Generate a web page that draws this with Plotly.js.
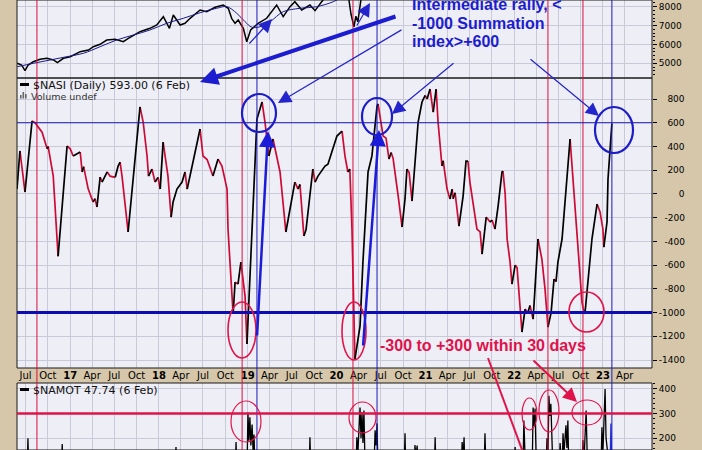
<!DOCTYPE html>
<html><head><meta charset="utf-8">
<script src="https://cdn.plot.ly/plotly-3.0.1.min.js"></script>
<style>html,body{margin:0;padding:0;background:#d6c7aa;}#chart{width:702px;height:450px;}</style>
</head><body><div id="chart"></div>
<script>
// ---------- DATA (dates as decimal years) ----------
const priceT = [2016.407,2016.456,2016.493,2016.530,2016.587,2016.662,2016.738,2016.812,2016.857,2016.925,2017.000,2017.113,2017.206,2017.262,2017.338,2017.413,2017.507,2017.600,2017.657,2017.788,2017.901,2017.976,2018.051,2018.089,2018.118,2018.163,2018.239,2018.295,2018.351,2018.464,2018.539,2018.633,2018.726,2018.783,2018.821,2018.858,2018.895,2018.952,2018.990,2019.035,2019.120,2019.215,2019.328,2019.402,2019.477,2019.534,2019.609,2019.703,2019.759,2019.834,2019.928,2020.040,2020.097,2020.142,2020.164,2020.198,2020.221,2020.243,2020.277,2020.333,2020.491,2021.054,2021.899,2022.777,2023.104];
const priceV = [5000,4910,4608,4910,5085,5212,5265,5175,5032,5265,5350,5615,5705,5880,6007,6235,6272,6145,6325,6675,6855,7030,7470,7120,6855,7560,7030,7120,7385,7825,7735,7968,8090,7915,7385,7120,7295,6855,6145,6765,7120,7385,8090,7470,8000,8265,7825,8090,7790,8265,8700,9300,9700,8400,7600,6930,7500,7200,8400,9000,10200,13500,16000,10300,11900];

const maT = [2016.407,2016.587,2016.775,2016.963,2017.150,2017.338,2017.526,2017.713,2017.901,2018.089,2018.276,2018.464,2018.652,2018.765,2018.878,2018.971,2019.047,2019.141,2019.253,2019.402,2019.590,2019.778,2019.966,2020.097];
const maV = [4820,5000,5175,5350,5530,5880,6235,6500,6765,7120,7385,7680,7915,8000,7650,7205,6910,6940,7205,7735,7915,8000,8265,8600];

const nasiT = [2016.403,2016.437,2016.493,2016.572,2016.606,2016.685,2016.741,2016.752,2016.809,2016.865,2016.966,2017.000,2017.034,2017.113,2017.135,2017.152,2017.203,2017.259,2017.282,2017.304,2017.338,2017.360,2017.417,2017.450,2017.507,2017.541,2017.563,2017.586,2017.653,2017.788,2017.822,2017.867,2017.884,2017.923,2017.957,2017.991,2018.014,2018.047,2018.092,2018.104,2018.137,2018.160,2018.205,2018.261,2018.295,2018.318,2018.464,2018.498,2018.543,2018.610,2018.667,2018.712,2018.768,2018.779,2018.802,2018.824,2018.836,2018.858,2018.892,2018.926,2018.971,2018.993,2019.038,2019.050,2019.106,2019.162,2019.196,2019.241,2019.286,2019.331,2019.365,2019.432,2019.534,2019.568,2019.590,2019.635,2019.658,2019.736,2019.759,2019.793,2019.872,2019.905,2020.007,2020.063,2020.097,2020.131,2020.153,2020.176,2020.209,2020.243,2020.266,2020.300,2020.322,2020.345,2020.356,2020.401,2020.457,2020.468,2020.525,2020.558,2020.592,2020.615,2020.637,2020.694,2020.739,2020.772,2020.795,2020.817,2020.851,2020.919,2020.964,2020.998,2021.020,2021.054,2021.088,2021.122,2021.144,2021.189,2021.200,2021.245,2021.279,2021.302,2021.313,2021.335,2021.380,2021.425,2021.459,2021.482,2021.504,2021.583,2021.617,2021.640,2021.685,2021.730,2021.752,2021.786,2021.820,2021.865,2021.876,2021.899,2021.921,2021.955,2021.977,2022.011,2022.034,2022.068,2022.090,2022.124,2022.158,2022.180,2022.214,2022.270,2022.315,2022.349,2022.383,2022.417,2022.450,2022.473,2022.495,2022.540,2022.585,2022.631,2022.653,2022.687,2022.721,2022.766,2022.777,2022.800,2022.833,2022.878,2022.935,2022.968,2023.002,2023.013,2023.047,2023.059,2023.081,2023.104];
const nasiV = [41,362,16,615,600,520,380,400,153,-525,404,380,320,353,185,230,41,-68,-40,-110,142,100,185,150,140,235,269,150,-321,733,606,320,150,210,100,140,41,437,235,150,-195,-68,41,100,185,41,547,320,290,151,294,235,41,-296,-574,-861,-1012,-743,-760,-574,-861,-1265,-574,-296,631,775,606,320,463,300,185,-321,100,41,80,-355,-300,210,100,150,235,250,488,530,320,185,210,-300,-1392,-1250,-1114,-574,-296,100,185,320,741,758,488,470,294,350,300,-18,-279,-43,210,180,-60,606,775,830,800,884,690,884,606,235,280,41,-43,41,-40,10,-271,-18,277,277,100,-296,-320,-507,-195,-237,-220,-296,-102,185,193,0,-380,-570,-760,-600,-620,-945,-1164,-970,-1000,-940,-1055,-380,-550,-802,-1122,-1000,-717,-740,-574,-380,0,463,235,-102,-464,-911,-954,-1012,-717,-380,-85,-150,-296,-448,-237,126,404,593];

const namotT = [2016.403,2016.516,2016.527,2016.538,2016.899,2016.910,2016.921,2018.182,2018.194,2018.205,2018.858,2018.869,2018.881,2018.993,2019.004,2019.016,2019.027,2019.038,2019.050,2019.061,2019.072,2019.083,2019.691,2019.703,2019.714,2020.221,2020.232,2020.243,2020.266,2020.277,2020.288,2020.300,2020.311,2020.322,2020.333,2020.423,2020.435,2020.446,2020.457,2020.468,2020.761,2020.772,2020.784,2020.874,2020.885,2020.896,2020.908,2020.919,2021.099,2021.110,2021.122,2021.403,2021.414,2021.426,2021.437,2021.448,2021.662,2021.673,2021.685,2022.000,2022.011,2022.022,2022.101,2022.112,2022.124,2022.146,2022.203,2022.214,2022.225,2022.236,2022.248,2022.259,2022.360,2022.371,2022.383,2022.394,2022.405,2022.416,2022.428,2022.439,2022.507,2022.518,2022.529,2022.540,2022.552,2022.563,2022.585,2022.597,2022.608,2022.619,2022.766,2022.777,2022.788,2022.811,2022.822,2022.833,2022.980,2022.991,2023.002,2023.025,2023.036,2023.047,2023.081];
const namotV = [40,40,200,40,40,176,40,40,164,40,40,184,40,60,304,190,285,170,255,150,215,60,40,204,40,60,204,140,324,200,305,180,312,120,60,60,232,170,260,60,40,220,40,40,172,120,170,40,40,204,40,40,184,120,204,40,40,220,40,40,164,40,60,272,120,60,60,324,250,320,140,60,60,200,120,372,290,340,180,60,60,180,80,60,220,140,252,160,272,60,60,192,100,312,150,60,60,244,140,400,200,60,60];
const namotLastT = [2023.081,2023.092,2023.104];
const namotLastV = [60,260,47.74];

const xTickVals = ['2016-07-01','2016-10-01','2017-01-01','2017-04-01','2017-07-01','2017-10-01','2018-01-01','2018-04-01','2018-07-01','2018-10-01','2019-01-01','2019-04-01','2019-07-01','2019-10-01','2020-01-01','2020-04-01','2020-07-01','2020-10-01','2021-01-01','2021-04-01','2021-07-01','2021-10-01','2022-01-01','2022-04-01','2022-07-01','2022-10-01','2023-01-01','2023-04-01'];
const xTickText = ['Jul','Oct','17','Apr','Jul','Oct','18','Apr','Jul','Oct','19','Apr','Jul','Oct','20','Apr','Jul','Oct','21','Apr','Jul','Oct','22','Apr','Jul','Oct','23','Apr'];
const priceTicks = [5000,6000,7000,8000];
const nasiTicks = [800,600,400,200,0,-200,-400,-600,-800,-1000,-1200,-1400];
const namotTicks = [200,300,400];
const redEventT = [2016.628,2018.937,2020.187,2022.383,2022.777];
const blueEventT = [2019.106,2020.457,2023.104];
const nasiLevels = [600,-1000];
const namotLevel = 300;

// ---------- helpers ----------
function yd(t){const y=Math.floor(t);const a=Date.UTC(y,0,1),b=Date.UTC(y+1,0,1);return new Date(a+(t-y)*(b-a)).toISOString().slice(0,10);}
const W=702,H=450,L=17,R=50,PW=W-L-R;
const px=x=>(x-L)/PW, py=y=>1-y/H;
const FONT='DejaVu Sans';
const RED='#d8103f', BLUE='#1c1cc8', NAVY='#0c0cb0';

function split(xs,ys){
  const up={x:[],y:[]},dn={x:[],y:[]};
  for(let i=0;i<xs.length-1;i++){
    const g=ys[i+1]>=ys[i]?up:dn;const n=g.x.length;
    if(n===0||g.x[n-1]!==xs[i]){if(n){g.x.push(null);g.y.push(null);}g.x.push(xs[i]);g.y.push(ys[i]);}
    g.x.push(xs[i+1]);g.y.push(ys[i+1]);
  }
  return [up,dn];
}
const nasiX=nasiT.map(yd);
const [nUp,nDn]=split(nasiX,nasiV);

const traces=[
  {x:priceT.map(yd),y:priceV,xaxis:'x',yaxis:'y',type:'scatter',mode:'lines',line:{color:'#000',width:1.5}},
  {x:maT.map(yd),y:maV,xaxis:'x',yaxis:'y',type:'scatter',mode:'lines',line:{color:'#1a1a8c',width:1,shape:'spline'}},
  {x:nDn.x,y:nDn.y,xaxis:'x',yaxis:'y2',type:'scatter',mode:'lines',line:{color:'#cc0a36',width:1.7},connectgaps:false},
  {x:nUp.x,y:nUp.y,xaxis:'x',yaxis:'y2',type:'scatter',mode:'lines',line:{color:'#000',width:1.7},connectgaps:false},
  {x:namotT.map(yd),y:namotV,xaxis:'x',yaxis:'y3',type:'scatter',mode:'lines',line:{color:'#000',width:1.3}},
  {x:namotLastT.map(yd),y:namotLastV,xaxis:'x',yaxis:'y3',type:'scatter',mode:'lines',line:{color:'#2030e0',width:1.3}}
];

function padTick(v){const s=String(v);const neg=s[0]==='-';const digits=s.replace('-','').length;
  let p='';for(let i=digits;i<4;i++)p+='\u2007';if(!neg)p+='\u2008';return p+s;}

const GRID='#c9c9d8';
const yCommon={side:'right',anchor:'x',showgrid:true,gridcolor:GRID,gridwidth:1,zeroline:false,ticks:'outside',ticklen:4,tickcolor:'#000',tickfont:{family:FONT,size:9,color:'#000'},showline:false,fixedrange:true};

const shapes=[];
[[py(78),1],[py(368),py(78)],[0,py(383)]].forEach(d=>shapes.push({type:'rect',xref:'paper',yref:'paper',x0:0,x1:1,y0:d[0],y1:d[1],line:{color:'#1a1a1a',width:1},layer:'above'}));
redEventT.forEach(t=>shapes.push({type:'line',xref:'x',yref:'paper',x0:yd(t),x1:yd(t),y0:0,y1:1,line:{color:RED,width:1}}));
blueEventT.forEach(t=>shapes.push({type:'line',xref:'x',yref:'paper',x0:yd(t),x1:yd(t),y0:0,y1:1,line:{color:'#1a1ab8',width:1}}));
shapes.push({type:'line',xref:'paper',yref:'y2',x0:0,x1:1,y0:nasiLevels[0],y1:nasiLevels[0],line:{color:'#1a1ab0',width:1.2}});
shapes.push({type:'line',xref:'paper',yref:'y2',x0:0,x1:1,y0:nasiLevels[1],y1:nasiLevels[1],line:{color:NAVY,width:3}});
shapes.push({type:'line',xref:'paper',yref:'y3',x0:0,x1:1,y0:namotLevel,y1:namotLevel,line:{color:'#dc1448',width:2.5}});
function ell(x0,y0,x1,y1,c,w){shapes.push({type:'circle',xref:'paper',yref:'paper',x0:px(x0),x1:px(x1),y0:py(y1),y1:py(y0),line:{color:c,width:w}});}
ell(242,94,276,132,BLUE,2.2);ell(362,98,392,135,BLUE,2.2);ell(595,107,633,153,BLUE,2.2);
ell(228,302,256,358,'#e0144a',1.6);ell(342,302,366,360,'#e0144a',1.6);ell(569,292,604,332,'#e0144a',1.6);
ell(231,401,261,442,'#e0144a',1.2);ell(349,402,376,433,'#e0144a',1.2);ell(522,398,537,430,'#e0144a',1.2);ell(539,390,559,432,'#e0144a',1.2);ell(572,400,602,425,'#e0144a',1.2);
shapes.push({type:'line',xref:'paper',yref:'paper',x0:px(488),y0:py(358),x1:px(524),y1:py(455),line:{color:'#e0144a',width:2}});
shapes.push({type:'line',xref:'paper',yref:'paper',x0:px(20),x1:px(29),y0:py(84.5),y1:py(84.5),line:{color:'#000',width:3}});
shapes.push({type:'line',xref:'paper',yref:'paper',x0:px(20),x1:px(29),y0:py(389.5),y1:py(389.5),line:{color:'#000',width:3}});
[[20,95],[22.5,92],[25,94]].forEach(b=>shapes.push({type:'rect',xref:'paper',yref:'paper',x0:px(b[0]),x1:px(b[0]+1.6),y0:py(98.5),y1:py(b[1]),fillcolor:'#666',line:{width:0}}));

const ann=[];
function txt(x,y,s,size,color,bold,fam){ann.push({xref:'paper',yref:'paper',x:px(x),y:py(y),xanchor:'left',yanchor:'middle',text:s,showarrow:false,borderpad:0,font:{family:fam||FONT,size:size,color:color,weight:bold?700:400}});}
function arr(tx,ty,sx,sy,c,w,sz){ann.push({xref:'paper',yref:'paper',x:px(tx),y:py(ty),ax:sx-tx,ay:sy-ty,text:'',showarrow:true,arrowhead:2,arrowsize:sz,arrowwidth:w,arrowcolor:c,standoff:0});}
txt(32,85,'$NASI (Daily) '+nasiV[nasiV.length-1].toFixed(2)+' (6 Feb)',11,'#111');
txt(30,96.5,'Volume undef',9.5,'#333');
txt(32,390,'$NAMOT '+namotLastV[namotLastV.length-1].toFixed(2)+' (6 Feb)',11,'#111');
txt(411,4.5,'Intermediate rally, <',16,'#1c1cd0',true,'Liberation Sans');
txt(411,23.5,'-1000 Summation',16,'#1c1cd0',true,'Liberation Sans');
txt(411,41.5,'index>+600',16,'#1c1cd0',true,'Liberation Sans');
txt(379,345,'-300 to +300 within 30 days',16,'#e0124a',true,'Liberation Sans');
arr(200,82,397,16,'#1c1cd0',4,0.9);
arr(278,103,403,29,'#2424cc',1.2,2.2);
arr(392,114,455,62,'#2424cc',1.2,2.2);
arr(599,116,529,58,'#2424cc',1.2,2.2);
arr(272,19,248,45,'#2424cc',1.2,2.2);
arr(370,3,356,27,'#2424cc',1.2,2.2);
arr(268,131,257,337,'#1c1cd8',2.5,1.3);
arr(379,130,363,347,'#1c1cd8',2.5,1.3);
arr(577,402,532,359,'#e0124a',2,1.4);

const layout={
  width:W,height:H,margin:{l:L,r:R,t:0,b:0,pad:0},
  paper_bgcolor:'#d6c7aa',plot_bgcolor:'#eeeef6',showlegend:false,hovermode:false,
  xaxis:{type:'date',range:[yd(2016.403),yd(2023.554)],anchor:'free',position:py(368),domain:[0,1],
    tickvals:xTickVals,ticktext:xTickText.map(s=>/^\d+$/.test(s)?'<b>'+s+'</b>':s),tickangle:0,
    showgrid:true,gridcolor:GRID,gridwidth:1,zeroline:false,ticks:'',showline:false,
    tickfont:{family:FONT,size:10,color:'#000'},fixedrange:true},
  yaxis:Object.assign({},yCommon,{domain:[py(78),1],range:[4221,8355],tickvals:priceTicks,ticktext:priceTicks.map(String),
    minor:{ticks:'outside',ticklen:2,dtick:200,tickcolor:'#000',showgrid:false}}),
  yaxis2:Object.assign({},yCommon,{domain:[py(368),py(78)],range:[-1467,977],tickvals:nasiTicks,ticktext:nasiTicks.map(padTick)}),
  yaxis3:Object.assign({},yCommon,{domain:[0,py(383)],range:[152,424],tickvals:namotTicks,ticktext:namotTicks.map(String),
    minor:{ticks:'outside',ticklen:2,dtick:20,tickcolor:'#000',showgrid:false}}),
  shapes:shapes,annotations:ann
};
Plotly.newPlot('chart',traces,layout,{staticPlot:true,displayModeBar:false});
</script></body></html>
